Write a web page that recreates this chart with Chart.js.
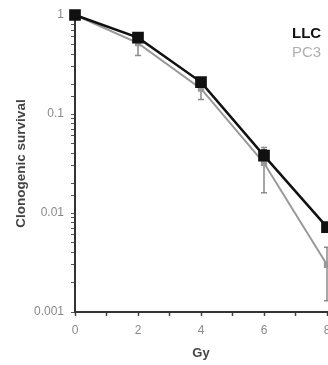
<!DOCTYPE html>
<html>
<head>
<meta charset="utf-8">
<script src="https://cdn.jsdelivr.net/npm/chart.js@4/dist/chart.umd.min.js"></script>
<style>
  html, body { margin: 0; padding: 0; background: #fff; }
  #chart { display: block; }
</style>
</head>
<body>
<canvas id="chart" width="328" height="365"></canvas>
<script>
// dose (Gy)
const doses = [0, 2, 4, 6, 8];

// survival fractions
const llcSurvival = [1, 0.59, 0.21, 0.038, 0.0072];
const llcLow = [1, 0.55, 0.195, 0.035, 0.0066];
const llcHigh = [1, 0.64, 0.225, 0.043, 0.0079];

const pc3Survival = [1, 0.52, 0.18, 0.032, 0.003];
const pc3Low = [1, 0.39, 0.14, 0.016, 0.0013];
const pc3High = [1, 0.6, 0.22, 0.046, 0.0045];

const yLabels = [1, 0.1, 0.01, 0.001];
const xLabels = [0, 2, 4, 6, 8];

const FONT = '"Liberation Sans", Arial, sans-serif';

// error bars, drawn through the chart scales (under the markers)
const errorBars = {
  id: 'errorBars',
  beforeDatasetsDraw(chart) {
    const ctx = chart.ctx;
    const xs = chart.scales.x, ys = chart.scales.y;
    const sets = [
      { lo: pc3Low, hi: pc3High, color: '#8a8a8a', width: 1.5 },
      { lo: llcLow, hi: llcHigh, color: '#111', width: 2 }
    ];
    ctx.save();
    sets.forEach(s => {
      ctx.strokeStyle = s.color;
      ctx.lineWidth = s.width;
      doses.forEach((d, i) => {
        const x = xs.getPixelForValue(d);
        const y1 = ys.getPixelForValue(s.lo[i]);
        const y2 = ys.getPixelForValue(s.hi[i]);
        ctx.beginPath();
        ctx.moveTo(x, y1); ctx.lineTo(x, y2);
        ctx.moveTo(x - 3, y1); ctx.lineTo(x + 3, y1);
        ctx.moveTo(x - 3, y2); ctx.lineTo(x + 3, y2);
        ctx.stroke();
      });
    });
    ctx.restore();
  }
};

// legend text only, no symbols
const textLegend = {
  id: 'textLegend',
  afterDraw(chart) {
    const ctx = chart.ctx;
    ctx.save();
    ctx.textBaseline = 'alphabetic';
    ctx.font = 'bold 15px ' + FONT;
    ctx.fillStyle = '#111';
    ctx.fillText(chart.data.datasets[0].label, 292, 38);
    ctx.font = '15px ' + FONT;
    ctx.fillStyle = '#b0b0b0';
    ctx.fillText(chart.data.datasets[1].label, 292, 57);
    ctx.restore();
  }
};

new Chart(document.getElementById('chart'), {
  type: 'line',
  data: {
    datasets: [
      {
        label: 'LLC',
        data: doses.map((d, i) => ({ x: d, y: llcSurvival[i] })),
        borderColor: '#111',
        backgroundColor: '#111',
        borderWidth: 2.5,
        pointStyle: 'rect',
        pointRadius: 6.5,
        clip: false,
        order: 1
      },
      {
        label: 'PC3',
        data: doses.map((d, i) => ({ x: d, y: pc3Survival[i] })),
        borderColor: '#999',
        backgroundColor: '#999',
        borderWidth: 2,
        pointStyle: 'rect',
        pointRadius: 3,
        clip: false,
        order: 2
      }
    ]
  },
  options: {
    responsive: false,
    animation: false,
    layout: { autoPadding: false, padding: { top: 15, right: 1, left: 9, bottom: 4 } },
    plugins: { legend: { display: false }, tooltip: { enabled: false } },
    scales: {
      x: {
        type: 'linear',
        min: 0,
        max: 8,
        afterFit(scale) {
          scale.height = 49;
          scale.paddingRight = 0;
          scale.paddingLeft = 0;
        },
        ticks: {
          stepSize: 1,
          autoSkip: false,
          maxRotation: 0,
          padding: 7,
          color: '#8a8a8a',
          font: { size: 12, family: FONT },
          callback: v => xLabels.includes(v) ? String(v) : ''
        },
        grid: { drawOnChartArea: false, drawTicks: true, tickLength: 4, tickColor: '#444', tickWidth: 1.5 },
        border: { color: '#333', width: 2 },
        title: {
          display: true,
          text: 'Gy',
          color: '#444',
          font: { size: 13, weight: 'bold', family: FONT },
          padding: { top: 1, bottom: 0 }
        }
      },
      y: {
        type: 'logarithmic',
        min: 0.001,
        max: 1,
        afterFit(scale) { scale.width = 66; },
        ticks: {
          autoSkip: false,
          padding: 7,
          color: '#8a8a8a',
          font: { size: 12, family: FONT },
          callback: v => yLabels.includes(v) ? String(v) : ''
        },
        grid: { drawOnChartArea: false, drawTicks: true, tickLength: 4, tickColor: '#555', tickWidth: 1 },
        border: { color: '#333', width: 2 },
        title: {
          display: true,
          text: 'Clonogenic survival',
          color: '#444',
          font: { size: 13.5, weight: 'bold', family: FONT },
          padding: { top: 4, bottom: 2 }
        }
      }
    }
  },
  plugins: [errorBars, textLegend]
});
</script>
</body>
</html>
